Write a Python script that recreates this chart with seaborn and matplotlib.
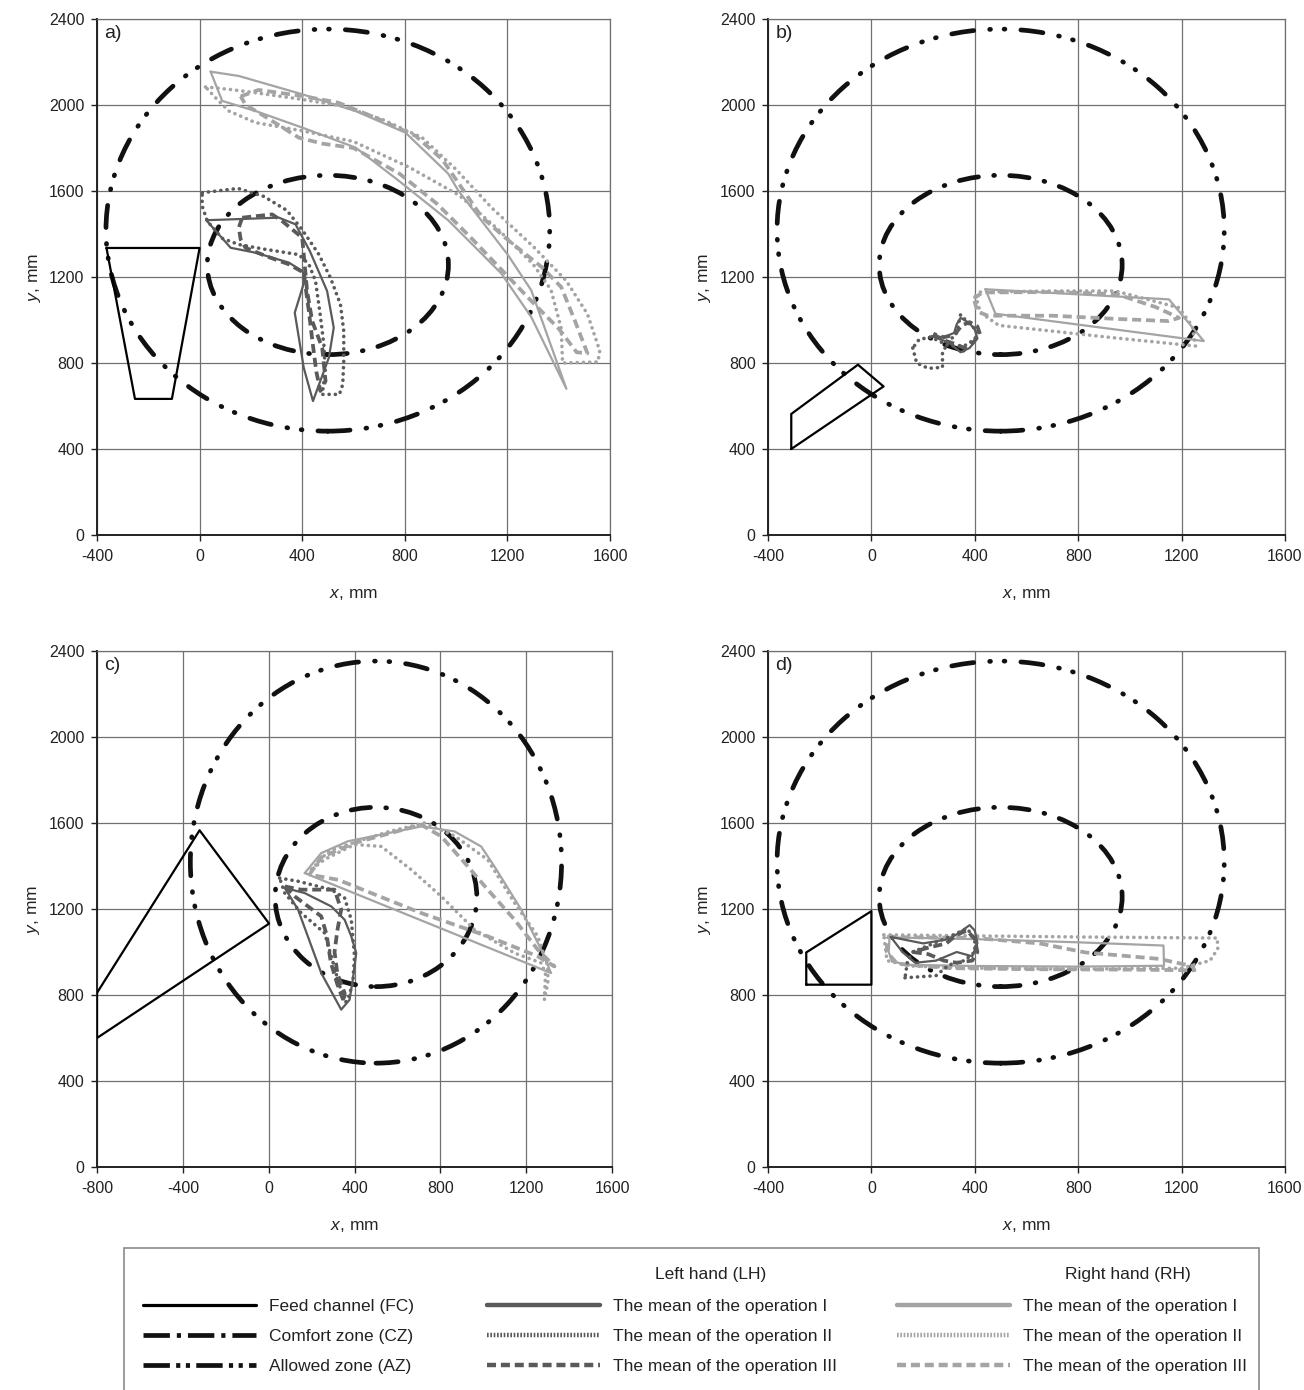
import matplotlib
matplotlib.use("Agg")
import matplotlib.pyplot as plt
from matplotlib.patches import Ellipse, Rectangle
from matplotlib.lines import Line2D
import seaborn as sns

# ---------------- data (all values in mm) ----------------
XTICKS_ABD = [-400, 0, 400, 800, 1200, 1600]
XTICKS_C = [-800, -400, 0, 400, 800, 1200, 1600]
YTICKS = [0, 400, 800, 1200, 1600, 2000, 2400]

# reach zones: centre and full width/height
AZ_CENTER = (500, 1418)
AZ_SIZE = (1730, 1870)
CZ_CENTER = (500, 1256)
CZ_SIZE = (940, 834)

# ---- a) ----
A_FC = [(-363, 1335), (0, 1335), (-108, 633), (-252, 633), (-363, 1335)]
A_LH1 = [(26, 1464), (309, 1476), (374, 1445), (430, 1320), (497, 1135), (523, 964), (504, 825),
         (442, 623), (406, 778), (371, 1034), (413, 1197), (400, 1228), (348, 1267), (218, 1313),
         (121, 1336), (26, 1464)]
A_LH2 = [(10, 1592), (150, 1612), (250, 1575), (340, 1510), (400, 1420), (465, 1305), (510, 1197),
         (549, 1073), (562, 949), (562, 809), (558, 700), (545, 654), (478, 654), (490, 760),
         (485, 880), (470, 1026), (452, 1181), (426, 1259), (387, 1304), (250, 1330), (153, 1351),
         (88, 1380), (30, 1460), (10, 1530), (10, 1592)]
A_LH3 = [(166, 1476), (283, 1491), (322, 1460), (400, 1383), (419, 1135), (439, 995), (478, 871),
         (491, 716), (471, 670), (455, 760), (440, 900), (425, 1050), (410, 1180), (406, 1220),
         (348, 1259), (257, 1298), (179, 1336), (160, 1375), (153, 1430), (166, 1476)]
A_RH1 = [(43, 2155), (153, 2135), (400, 2050), (608, 1972), (803, 1871), (969, 1681), (1008, 1603),
         (1203, 1301), (1293, 1138), (1430, 680), (1293, 1014), (1177, 1215), (1099, 1309),
         (969, 1464), (774, 1650), (608, 1802), (400, 1895), (218, 1972), (88, 2019), (43, 2155)]
A_RH2 = [(23, 2084), (114, 2073), (218, 2057), (400, 2026), (556, 1995), (712, 1933), (868, 1848),
         (1000, 1700), (1137, 1524), (1304, 1338), (1429, 1183), (1512, 1028), (1560, 857),
         (1553, 805), (1415, 800), (1410, 960), (1370, 1140), (1300, 1260), (1165, 1420),
         (1012, 1580), (818, 1710), (600, 1830), (400, 1880), (218, 1918), (114, 1972),
         (62, 2034), (23, 2084)]
A_RH3 = [(160, 2040), (230, 2070), (400, 2042), (540, 2011), (686, 1941), (842, 1856), (946, 1747),
         (1099, 1480), (1203, 1371), (1333, 1247), (1410, 1153), (1462, 1000), (1512, 845),
         (1470, 850), (1400, 960), (1300, 1080), (1180, 1230), (1060, 1380), (926, 1540),
         (780, 1680), (600, 1800), (480, 1820), (387, 1848), (250, 1950), (180, 2000), (160, 2040)]

# ---- b) ----
B_FC = [(-310, 400), (-310, 563), (-52, 792), (47, 691), (-310, 400)]
B_LH1 = [(235, 925), (300, 895), (345, 850), (380, 870), (410, 915), (400, 955), (380, 985),
         (345, 1010), (330, 980), (320, 940), (280, 920), (235, 925)]
B_LH2 = [(160, 870), (175, 800), (220, 775), (275, 780), (275, 850), (300, 900), (330, 940),
         (345, 1025), (375, 985), (410, 950), (400, 910), (360, 880), (300, 880), (230, 920),
         (185, 910), (160, 870)]
B_LH3 = [(240, 935), (270, 910), (320, 890), (360, 870), (390, 890), (420, 935), (410, 970),
         (380, 990), (350, 975), (320, 930), (280, 920), (240, 935)]
B_RH1 = [(441, 1143), (1151, 1096), (1286, 902), (480, 1029), (441, 1143)]
B_RH2 = [(403, 1112), (420, 1130), (700, 1135), (944, 1135), (1190, 1057), (1241, 972),
         (1254, 879), (932, 918), (493, 975), (422, 1034), (403, 1112)]
B_RH3 = [(396, 1100), (430, 1128), (700, 1130), (950, 1120), (1100, 1060), (1190, 1010),
         (1150, 995), (950, 1005), (700, 1020), (450, 1020), (410, 1040), (396, 1100)]

# ---- c) ----
C_FC = [(-800, 810), (-322, 1566), (2, 1132), (-800, 600), (-800, 810)]
C_LH1 = [(75, 1298), (168, 1274), (292, 1212), (354, 1150), (385, 1073), (408, 995), (392, 871),
         (377, 778), (338, 732), (245, 902), (137, 1197), (75, 1298)]
C_LH2 = [(51, 1344), (137, 1329), (292, 1290), (354, 1251), (385, 1150), (400, 980), (392, 856),
         (369, 778), (354, 763), (320, 880), (261, 1088), (152, 1181), (75, 1274), (51, 1344)]
C_LH3 = [(75, 1305), (150, 1290), (307, 1290), (338, 1197), (320, 1100), (307, 1000), (320, 900),
         (354, 809), (350, 770), (320, 850), (290, 950), (270, 1080), (245, 1166), (121, 1259),
         (75, 1305)]
C_RH1 = [(168, 1367), (245, 1460), (369, 1515), (711, 1584), (866, 1561), (990, 1491),
         (1052, 1398), (1177, 1197), (1270, 1011), (1316, 902), (168, 1367)]
C_RH2 = [(199, 1383), (280, 1470), (400, 1510), (560, 1560), (726, 1600), (866, 1540),
         (1021, 1429), (1146, 1228), (1254, 1073), (1301, 933), (1301, 856), (1285, 778),
         (1290, 900), (1270, 949), (1146, 995), (959, 1104), (804, 1259), (664, 1383),
         (525, 1491), (400, 1500), (260, 1430), (199, 1383)]
C_RH3 = [(190, 1360), (245, 1440), (400, 1507), (711, 1592), (804, 1538), (928, 1398),
         (1021, 1290), (1146, 1150), (1254, 1011), (1332, 933), (1254, 980), (1021, 1073),
         (711, 1181), (323, 1336), (190, 1360)]

# ---- d) ----
D_FC = [(-252, 848), (-252, 998), (0, 1190), (0, 848), (-252, 848)]
D_LH1 = [(75, 1070), (120, 1000), (170, 950), (250, 960), (330, 1000), (390, 980), (410, 1040),
         (400, 1100), (380, 1125), (340, 1090), (300, 1060), (200, 1040), (75, 1070)]
D_LH2 = [(130, 880), (250, 890), (300, 940), (360, 960), (400, 1000), (400, 1060), (370, 1110),
         (300, 1070), (220, 1030), (160, 1000), (140, 960), (130, 880)]
D_LH3 = [(160, 1000), (220, 990), (280, 960), (330, 950), (390, 960), (410, 1000), (400, 1060),
         (370, 1100), (330, 1080), (290, 1040), (220, 1020), (160, 1000)]
D_RH1 = [(70, 1068), (400, 1060), (800, 1045), (1130, 1030), (1132, 936), (800, 932), (400, 935),
         (150, 940), (80, 955), (67, 1000), (70, 1068)]
D_RH2 = [(48, 1080), (400, 1075), (800, 1070), (1338, 1065), (1340, 1015), (1310, 960),
         (1200, 925), (800, 920), (400, 925), (150, 935), (60, 960), (48, 1080)]
D_RH3 = [(60, 1070), (400, 1065), (650, 1040), (828, 998), (1112, 968), (1240, 935), (1250, 915),
         (1000, 918), (600, 920), (300, 925), (100, 945), (60, 1000), (60, 1070)]

PANEL_LABELS = ["a)", "b)", "c)", "d)"]
LEGEND_LABELS_ZONES = ["Feed channel (FC)", "Comfort zone (CZ)", "Allowed zone (AZ)"]
LEGEND_LABELS_OPS = ["The mean of the operation I", "The mean of the operation II",
                     "The mean of the operation III"]
HEADER_LH = "Left hand (LH)"
HEADER_RH = "Right hand (RH)"

# ---------------- styling ----------------
sns.set_theme(style="white")
plt.rcParams["font.family"] = ["Liberation Sans", "DejaVu Sans"]
plt.rcParams["mathtext.fontset"] = "custom"
plt.rcParams["mathtext.rm"] = "Liberation Sans"
plt.rcParams["mathtext.it"] = "Liberation Sans:italic"
plt.rcParams["lines.scale_dashes"] = False
plt.rcParams["axes.unicode_minus"] = False

DARK = "#5a5a5a"
LIGHT = "#a4a4a4"
GRID = "#707070"
ZONE_LW = 3.4
AZ_LS = (0, (16.0, 11.5, 0.6, 9.8, 0.6, 11.5))
CZ_LS = (0, (14.0, 11.0, 0.6, 11.0))
AZ_LEG_LS = (0, (19, 4.5, 3, 4, 3, 4.5))
CZ_LEG_LS = (0, (19, 5, 3, 5))
SOLID_LS = "-"
DOT_LS = (0, (0.1, 4.4))
DASH_LS = (0, (6.5, 3.5))

STYLES = {
    "FC": dict(color="black", linewidth=1.6, linestyle=SOLID_LS),
    "LH1": dict(color=DARK, linewidth=1.6, linestyle=SOLID_LS),
    "LH2": dict(color=DARK, linewidth=2.6, linestyle=DOT_LS, dash_capstyle="round"),
    "LH3": dict(color=DARK, linewidth=2.7, linestyle=DASH_LS),
    "RH1": dict(color=LIGHT, linewidth=1.6, linestyle=SOLID_LS),
    "RH2": dict(color=LIGHT, linewidth=2.6, linestyle=DOT_LS, dash_capstyle="round"),
    "RH3": dict(color=LIGHT, linewidth=2.7, linestyle=DASH_LS),
}

panels = [
    dict(label=PANEL_LABELS[0], xticks=XTICKS_ABD,
         shapes=dict(FC=A_FC, LH1=A_LH1, LH2=A_LH2, LH3=A_LH3, RH1=A_RH1, RH2=A_RH2, RH3=A_RH3)),
    dict(label=PANEL_LABELS[1], xticks=XTICKS_ABD,
         shapes=dict(FC=B_FC, LH1=B_LH1, LH2=B_LH2, LH3=B_LH3, RH1=B_RH1, RH2=B_RH2, RH3=B_RH3)),
    dict(label=PANEL_LABELS[2], xticks=XTICKS_C,
         shapes=dict(FC=C_FC, LH1=C_LH1, LH2=C_LH2, LH3=C_LH3, RH1=C_RH1, RH2=C_RH2, RH3=C_RH3)),
    dict(label=PANEL_LABELS[3], xticks=XTICKS_ABD,
         shapes=dict(FC=D_FC, LH1=D_LH1, LH2=D_LH2, LH3=D_LH3, RH1=D_RH1, RH2=D_RH2, RH3=D_RH3)),
]

W, H = 1304, 1390
fig = plt.figure(figsize=(W / 100, H / 100), dpi=100)
fig.patch.set_facecolor("white")

# axes boxes in pixels: left, top, right, bottom
boxes = [(97, 19, 610, 535), (768, 19, 1285, 535), (97, 651, 612, 1167), (768, 651, 1285, 1167)]

draw_order = ["RH1", "RH2", "RH3", "LH1", "LH2", "LH3", "FC"]

for panel, (l, t, r, b) in zip(panels, boxes):
    ax = fig.add_axes([l / W, 1 - b / H, (r - l) / W, (b - t) / H])
    ax.set_facecolor("white")
    xt = panel["xticks"]
    ax.set_xlim(xt[0], xt[-1])
    ax.set_ylim(YTICKS[0], YTICKS[-1])
    ax.set_xticks(xt)
    ax.set_yticks(YTICKS)
    ax.grid(True, color=GRID, linewidth=0.9)
    ax.set_axisbelow(True)
    for side in ("top", "right"):
        ax.spines[side].set_color(GRID)
        ax.spines[side].set_linewidth(0.9)
    for side in ("left", "bottom"):
        ax.spines[side].set_color("#222222")
        ax.spines[side].set_linewidth(1.4)
    ax.tick_params(axis="both", which="both", direction="out", length=4, width=1.0,
                   color="#222222", labelsize=11.5, labelcolor="#222222")
    ax.tick_params(axis="x", pad=6, bottom=True)
    ax.tick_params(axis="y", pad=5, left=True)

    # reach zones
    ax.add_patch(Ellipse(AZ_CENTER, AZ_SIZE[0], AZ_SIZE[1], fill=False, edgecolor="#111111",
                         linewidth=ZONE_LW, linestyle=AZ_LS, capstyle="round", zorder=3))
    ax.add_patch(Ellipse(CZ_CENTER, CZ_SIZE[0], CZ_SIZE[1], fill=False, edgecolor="#111111",
                         linewidth=ZONE_LW, linestyle=CZ_LS, capstyle="round", zorder=3))

    # feed channel and hand paths
    for key in draw_order:
        pts = panel["shapes"][key]
        xs = [p[0] for p in pts]
        ys = [p[1] for p in pts]
        sns.lineplot(x=xs, y=ys, sort=False, estimator=None, ax=ax, zorder=4,
                     **STYLES[key])

    ax.set_xlabel(r"$x$, mm", fontsize=12.5, color="#222222")
    ax.set_ylabel(r"$y$, mm", fontsize=12.5, color="#222222")
    ax.xaxis.set_label_coords(0.5, -0.1)
    ax.yaxis.set_label_coords(-0.106, 0.5)
    ax.text(0.014, 0.988, panel["label"], transform=ax.transAxes, ha="left", va="top",
            fontsize=14, color="#222222")

# ---------------- legend ----------------
fig.patches.append(Rectangle((124 / W, -0.01), (1259 - 124) / W, (1390 - 1248) / H + 0.01,
                             transform=fig.transFigure, fill=False, edgecolor="#8a8a8a",
                             linewidth=1.2))

def handle(key, lw):
    st = dict(STYLES[key])
    st["linewidth"] = lw
    if st["linestyle"] == DOT_LS:
        st["linestyle"] = (0, (1.2, 1.2))
        st.pop("dash_capstyle", None)
    return Line2D([], [], **st)

zone_handles = [
    handle("FC", 2.3),
    Line2D([], [], color="#111111", linewidth=3.4, linestyle=CZ_LEG_LS, dash_capstyle="butt"),
    Line2D([], [], color="#111111", linewidth=3.4, linestyle=AZ_LEG_LS, dash_capstyle="butt"),
]
lh_handles = [handle("LH1", 3.2), handle("LH2", 3.2), handle("LH3", 3.2)]
rh_handles = [handle("RH1", 3.2), handle("RH2", 3.2), handle("RH3", 3.2)]

leg_kw = dict(loc="upper left", frameon=False, fontsize=12.5, borderpad=0, borderaxespad=0,
              handlelength=6.5, handletextpad=0.75, labelspacing=0.85,
              bbox_transform=fig.transFigure, labelcolor="#222222")
fig.legend(zone_handles, LEGEND_LABELS_ZONES, bbox_to_anchor=(143 / W, 1 - 1299 / H), **leg_kw)
fig.legend(lh_handles, LEGEND_LABELS_OPS, bbox_to_anchor=(487 / W, 1 - 1299 / H), **leg_kw)
fig.legend(rh_handles, LEGEND_LABELS_OPS, bbox_to_anchor=(897 / W, 1 - 1299 / H), **leg_kw)

fig.text(711 / W, 1 - 1275 / H, HEADER_LH, ha="center", va="center", fontsize=12.5,
         color="#222222")
fig.text(1128 / W, 1 - 1275 / H, HEADER_RH, ha="center", va="center", fontsize=12.5,
         color="#222222")

fig.savefig("out.png", dpi=100, facecolor="white")
